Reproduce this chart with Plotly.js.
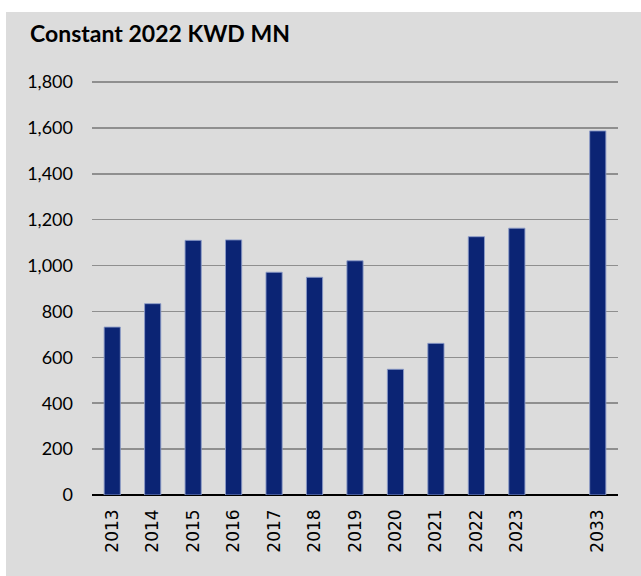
<!DOCTYPE html>
<html>
<head>
<meta charset="utf-8">
<script src="https://cdn.plot.ly/plotly-3.0.1.min.js"></script>
<style>
  html, body { margin: 0; padding: 0; background: #ffffff; width: 641px; height: 576px; overflow: hidden; }
  #chart { position: absolute; left: 6px; top: 12px; width: 635px; height: 564px; }
</style>
</head>
<body>
<div id="chart"></div>
<script>
// Categories (a blank slot separates 2023 from 2033)
var categories = ['2013', '2014', '2015', '2016', '2017', '2018', '2019', '2020', '2021', '2022', '2023', ' ', '2033'];
// Values in constant 2022 KWD MN
var values = [732, 834, 1110, 1112, 971, 949, 1021, 548, 661, 1126, 1163, null, 1587];
var yTicks = [0, 200, 400, 600, 800, 1000, 1200, 1400, 1600, 1800];
var chartTitle = 'Constant 2022 KWD MN';

var trace = {
  type: 'bar',
  x: categories,
  y: values,
  marker: { color: '#0b2474', line: { color: 'rgba(140,155,200,0.9)', width: 1 } },
  hoverinfo: 'x+y'
};

var layout = {
  width: 635,
  height: 564,
  margin: { l: 86, r: 23, t: 68, b: 81 },
  paper_bgcolor: '#dcdcdc',
  plot_bgcolor: '#dcdcdc',
  bargap: 0.6,
  showlegend: false,
  title: {
    text: '<b>' + chartTitle + '</b>',
    font: { family: 'Lato, "Noto Sans", sans-serif', size: 23, color: '#000000' },
    xref: 'container', yref: 'container',
    x: 24 / 635, xanchor: 'left',
    y: 1 - 22 / 564, yanchor: 'middle'
  },
  xaxis: {
    type: 'category',
    categoryorder: 'array',
    categoryarray: categories,
    range: [-0.5, categories.length - 0.5],
    tickangle: -90,
    tickfont: { family: '"DejaVu Sans", sans-serif', size: 17, color: '#000000' },
    ticks: '',
    ticklabelstandoff: 10,
    showgrid: false,
    showline: false,
    zeroline: false,
    fixedrange: true
  },
  yaxis: {
    range: [0, 1809],
    tickvals: yTicks,
    tickformat: ',d',
    tickfont: { family: 'Lato, "Noto Sans", sans-serif', size: 18, color: '#000000' },
    ticks: '',
    ticklabelstandoff: 18,
    showgrid: true,
    gridcolor: '#8f8f8f',
    gridwidth: 1.5,
    zeroline: true,
    zerolinecolor: '#000000',
    zerolinewidth: 2,
    showline: false,
    fixedrange: true
  }
};

Plotly.newPlot('chart', [trace], layout, { displayModeBar: false, staticPlot: true });
</script>
</body>
</html>
